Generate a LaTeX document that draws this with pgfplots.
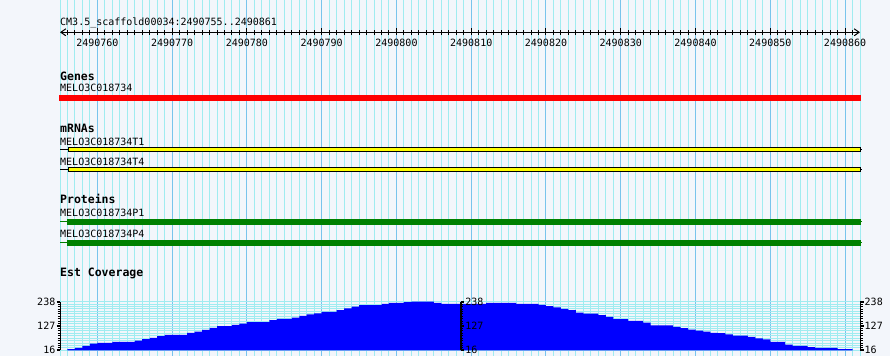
\documentclass[border=0pt]{standalone}
\usepackage{fontspec}
\setmainfont{DejaVu Sans Mono}
\usepackage{pgfplots}
\pgfplotsset{compat=1.18}
\usetikzlibrary{arrows.meta}
\definecolor{bgcol}{RGB}{243,246,251}
\definecolor{gridlight}{RGB}{160,236,240}
\definecolor{griddark}{RGB}{120,196,236}
\definecolor{genered}{RGB}{255,0,0}
\definecolor{mrnayellow}{RGB}{255,255,0}
\definecolor{protgreen}{RGB}{0,128,0}
\definecolor{covblue}{RGB}{0,0,255}
\newcommand{\lbl}{\fontsize{10}{12}\selectfont}
\newcommand{\hdr}{\fontsize{11.5}{13}\selectfont\bfseries}
\newcommand{\tlb}{\fontsize{10}{11}\selectfont}

\pgfplotstableread[row sep=\\]{
u v\\
56 21\\ 57 27\\ 58 36\\ 59 46\\ 60 50\\ 61 50\\ 62 55\\ 63 55\\ 64 55\\ 65 60\\
66 67\\ 67 73\\ 68 81\\ 69 87\\ 70 87\\ 71 87\\ 72 96\\ 73 101\\ 74 109\\ 75 119\\
76 127\\ 77 127\\ 78 132\\ 79 138\\ 80 145\\ 81 145\\ 82 145\\ 83 154\\ 84 159\\ 85 159\\
86 165\\ 87 173\\ 88 180\\ 89 185\\ 90 192\\ 91 192\\ 92 200\\ 93 208\\ 94 215\\ 95 222\\
96 222\\ 97 222\\ 98 228\\ 99 233\\ 100 233\\ 101 236\\ 102 238\\ 103 238\\ 104 238\\ 105 233\\
106 228\\ 107 228\\ 108 228\\ 109 228\\ 110 228\\ 111 228\\ 112 233\\ 113 233\\ 114 233\\ 115 233\\
116 228\\ 117 228\\ 118 228\\ 119 223\\ 120 218\\ 121 212\\ 122 205\\ 123 199\\ 124 188\\ 125 183\\
126 183\\ 127 177\\ 128 169\\ 129 158\\ 130 158\\ 131 150\\ 132 150\\ 133 142\\ 134 130\\ 135 130\\
136 130\\ 137 123\\ 138 117\\ 139 110\\ 140 106\\ 141 101\\ 142 96\\ 143 94\\ 144 89\\ 145 83\\
146 83\\ 147 77\\ 148 71\\ 149 66\\ 150 55\\ 151 55\\ 152 42\\ 153 36\\ 154 36\\ 155 31\\
156 27\\ 157 27\\ 158 27\\ 159 21\\ 160 21\\ 161 21\\
}\coverage

\begin{document}
\begin{tikzpicture}
% ---------- frame: background, vertical grid, tracks ----------
\begin{axis}[
  at={(0pt,0pt)}, anchor=south west,
  width=890pt, height=356pt, scale only axis,
  xmin=46.975, xmax=166.0125, ymin=0, ymax=356, y dir=reverse,
  axis line style={draw=none},
  axis background/.style={fill=bgcol},
  xtick={60,70,...,160},
  minor xtick={55,56,57,58,59,61,62,63,64,65,66,67,68,69,71,72,73,74,75,76,77,78,79,81,82,83,84,85,86,87,88,89,91,92,93,94,95,96,97,98,99,101,102,103,104,105,106,107,108,109,111,112,113,114,115,116,117,118,119,121,122,123,124,125,126,127,128,129,131,132,133,134,135,136,137,138,139,141,142,143,144,145,146,147,148,149,151,152,153,154,155,156,157,158,159,161,162},
  xticklabels={}, ytick=\empty,
  major tick length=0pt, minor tick length=0pt,
  xmajorgrids, xminorgrids,
  major grid style={griddark, line width=1pt},
  minor grid style={gridlight, line width=1pt},
  clip=false,
]
% Genes
\addplot[draw=none, fill=genered] coordinates {(54.87,95) (162.13,95) (162.13,101) (54.87,101)} -- cycle;
% mRNAs
\addplot[black, line width=1pt] coordinates {(55,149.3) (162.27,149.3)};
\addplot[draw=black, fill=mrnayellow, line width=1pt] coordinates {(56.11,147.5) (162,147.5) (162,151.5) (56.11,151.5)} -- cycle;
\addplot[black, line width=1pt] coordinates {(55,169.3) (162.27,169.3)};
\addplot[draw=black, fill=mrnayellow, line width=1pt] coordinates {(56.11,167.5) (162,167.5) (162,171.5) (56.11,171.5)} -- cycle;
% Proteins
\addplot[protgreen, line width=1pt] coordinates {(55,221.5) (162.27,221.5)};
\addplot[draw=none, fill=protgreen] coordinates {(55.9,219) (162.13,219) (162.13,225) (55.9,225)} -- cycle;
\addplot[protgreen, line width=1pt] coordinates {(55,242.5) (162.27,242.5)};
\addplot[draw=none, fill=protgreen] coordinates {(55.9,240) (162.13,240) (162.13,246) (55.9,246)} -- cycle;
% texts
\node[anchor=base west, inner sep=0pt, font=\lbl] at (axis cs:55,25) {CM3.5\_scaffold00034:2490755..2490861};
\node[anchor=base west, inner sep=0pt, font=\hdr] at (axis cs:55,80) {Genes};
\node[anchor=base west, inner sep=0pt, font=\lbl] at (axis cs:55,91.7) {MELO3C018734};
\node[anchor=base west, inner sep=0pt, font=\hdr] at (axis cs:55,132.3) {mRNAs};
\node[anchor=base west, inner sep=0pt, font=\lbl] at (axis cs:55,145) {MELO3C018734T1};
\node[anchor=base west, inner sep=0pt, font=\lbl] at (axis cs:55,165) {MELO3C018734T4};
\node[anchor=base west, inner sep=0pt, font=\hdr] at (axis cs:55,203.5) {Proteins};
\node[anchor=base west, inner sep=0pt, font=\lbl] at (axis cs:55,216.7) {MELO3C018734P1};
\node[anchor=base west, inner sep=0pt, font=\lbl] at (axis cs:55,237.7) {MELO3C018734P4};
\node[anchor=base west, inner sep=0pt, font=\hdr] at (axis cs:55,276.7) {Est Coverage};
\end{axis}

% ---------- ruler ----------
\begin{axis}[
  at={(60pt,323.7pt)}, anchor=south west,
  width=800pt, height=10pt, scale only axis,
  xmin=55, xmax=162, ymin=0, ymax=1,
  axis x line*=bottom, axis y line=none,
  x axis line style={line width=1pt, black, {Straight Barb[length=5pt,width=7pt]}-{Straight Barb[length=5pt,width=7pt]}},
  xtick={60,70,...,160},
  xticklabels={2490760,2490770,2490780,2490790,2490800,2490810,2490820,2490830,2490840,2490850,2490860},
  minor xtick={56,...,161},
  tick align=center,
  major tick length=7pt, minor tick length=5pt,
  every tick/.style={black, line width=1pt},
  major tick style={yshift=0.8pt},
  xticklabel style={font=\lbl},
]
\end{axis}

% ---------- coverage: left axis, data, grid ----------
\begin{axis}[
  at={(60pt,5.7pt)}, anchor=south west,
  width=800pt, height=48.6pt, scale only axis,
  xmin=55, xmax=162, ymin=16, ymax=238,
  axis x line=none, axis y line*=left,
  ytick={16,127,238}, yticklabels={16,127,238},
  minor y tick num=9,
  ymajorgrids, yminorgrids,
  major grid style={gridlight, line width=1pt},
  minor grid style={gridlight, line width=1pt},
  tick align=outside,
  major tick length=3.5pt, minor tick length=2.5pt,
  major tick style={black, line width=2pt},
  minor tick style={black, line width=0.8pt},
  y axis line style={black, line width=1pt},
  yticklabel style={font=\tlb, inner sep=1pt},
]
\addplot[fill=covblue, draw=none, const plot mark left] table[x=u, y=v] {\coverage} \closedcycle;
\end{axis}

% ---------- coverage: middle axis ----------
\begin{axis}[
  at={(60pt,5.7pt)}, anchor=south west,
  width=400.7pt, height=48.6pt, scale only axis,
  xmin=55, xmax=108.59, ymin=16, ymax=238,
  axis x line=none, axis y line*=right,
  ytick={16,127,238}, yticklabels={16,127,238},
  minor y tick num=9,
  tick align=outside,
  major tick length=3.5pt, minor tick length=2.5pt,
  major tick style={black, line width=2pt},
  minor tick style={black, line width=0.8pt},
  y axis line style={black, line width=2pt},
  yticklabel style={font=\tlb, inner sep=1pt},
]
\end{axis}

% ---------- coverage: right axis ----------
\begin{axis}[
  at={(60pt,5.7pt)}, anchor=south west,
  width=800pt, height=48.6pt, scale only axis,
  xmin=55, xmax=162, ymin=16, ymax=238,
  axis x line=none, axis y line*=right,
  ytick={16,127,238}, yticklabels={16,127,238},
  minor y tick num=9,
  tick align=outside,
  major tick length=3.5pt, minor tick length=2.5pt,
  major tick style={black, line width=2pt},
  minor tick style={black, line width=0.8pt},
  y axis line style={black, line width=1pt},
  yticklabel style={font=\tlb, inner sep=1pt},
]
\end{axis}

\pgfresetboundingbox
\path[use as bounding box] (0pt,0pt) rectangle (890pt,356pt);
\end{tikzpicture}
\end{document}
